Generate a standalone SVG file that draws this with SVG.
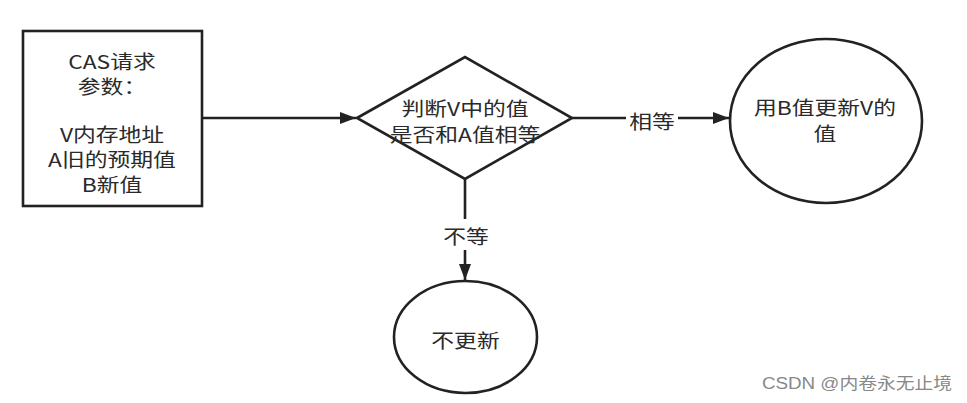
<svg xmlns="http://www.w3.org/2000/svg" width="967" height="403" viewBox="0 0 967 403">
<style>
.shape{fill:#fff;stroke:#222;stroke-width:2.6}
.line{fill:none;stroke:#222;stroke-width:2.6}
.t{font-family:"Noto Sans CJK SC","Liberation Sans",sans-serif;font-size:19px;fill:#2a2a2a;text-anchor:middle;dominant-baseline:central}
.wm{font-family:"Liberation Sans","Noto Sans CJK SC",sans-serif;font-size:16px;fill:#888}
</style>
<defs>
<marker id="arr" viewBox="0 0 16 12" refX="16" refY="6" markerWidth="16" markerHeight="12" markerUnits="userSpaceOnUse" orient="auto">
<path d="M0,0 L16,6 L0,12 Z" fill="#222"/>
</marker>
</defs>
<rect width="967" height="403" fill="#fff"/>
<g id="connectors">
<line class="line" x1="202" y1="118" x2="356" y2="118" marker-end="url(#arr)"/>
<line class="line" x1="572" y1="118" x2="626" y2="118"/>
<line class="line" x1="678" y1="118" x2="729" y2="118" marker-end="url(#arr)"/>
<text class="t" transform="translate(652 121) scale(1.2 1)">相等</text>
<line class="line" x1="465" y1="179" x2="465" y2="219"/>
<line class="line" x1="465" y1="250" x2="465" y2="280" marker-end="url(#arr)"/>
<text class="t" transform="translate(466 236) scale(1.2 1)">不等</text>
</g>
<g id="node-request">
<rect class="shape" x="23" y="31" width="179" height="175"/>
<text class="t" transform="translate(112 61) scale(1.2 1)">CAS请求</text>
<text class="t" transform="translate(112 86) scale(1.2 1)">参数：</text>
<text class="t" transform="translate(112 134) scale(1.2 1)">V内存地址</text>
<text class="t" transform="translate(112 159) scale(1.2 1)">A旧的预期值</text>
<text class="t" transform="translate(112 184) scale(1.2 1)">B新值</text>
</g>
<g id="node-decision">
<polygon class="shape" points="357,118 465,57 572,118 465,179"/>
<text class="t" transform="translate(465 108) scale(1.2 1)">判断V中的值</text>
<text class="t" transform="translate(465 134) scale(1.2 1)">是否和A值相等</text>
</g>
<g id="node-update">
<ellipse class="shape" cx="826" cy="121" rx="96" ry="82"/>
<text class="t" transform="translate(825 107) scale(1.2 1)">用B值更新V的</text>
<text class="t" transform="translate(825 133) scale(1.2 1)">值</text>
</g>
<g id="node-noupdate">
<ellipse class="shape" cx="465.5" cy="337" rx="71.5" ry="56"/>
<text class="t" transform="translate(465.5 340) scale(1.2 1)">不更新</text>
</g>
<text class="wm" x="762" y="389" textLength="190" lengthAdjust="spacingAndGlyphs">CSDN @内卷永无止境</text>
</svg>
